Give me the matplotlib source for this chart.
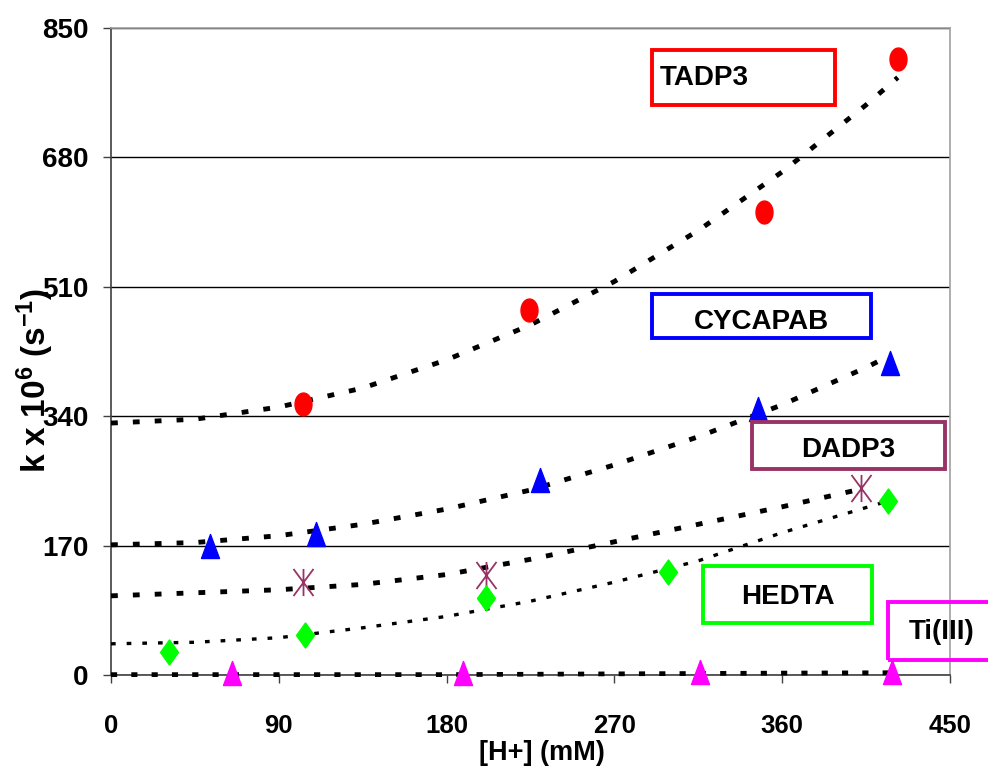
import numpy as np
import matplotlib
matplotlib.use("Agg")
import matplotlib.pyplot as plt
from matplotlib.path import Path
from matplotlib.patches import Rectangle

# ---------------- data ----------------
tadp3_x = [103, 224, 350, 422]
tadp3_y = [356, 480, 608, 809]
cycapab_x = [53, 110, 230, 347, 418]
cycapab_y = [170, 185, 256, 350, 410]
dadp3_x = [103, 201, 402]
dadp3_y = [122, 132, 246]
hedta_x = [31, 104, 201, 299, 417]
hedta_y = [30, 53, 101, 135, 229]
ti_x = [65, 189, 316, 419]
ti_y = [3, 3, 4, 4]

# trendlines
tadp3_fit_x = [0, 45, 90, 135, 180, 225, 270, 315, 360, 405, 422]
tadp3_fit_y = [331, 336, 352, 377, 414, 460, 517, 584, 661, 749, 785]
cycapab_fit_x = [0, 45, 90, 135, 180, 225, 270, 315, 360, 405, 418]
cycapab_fit_y = [171, 174, 183, 198, 218, 243, 276, 313, 355, 404, 420]
dadp3_fit_x = [0, 45, 90, 135, 180, 225, 270, 315, 360, 400]
dadp3_fit_y = [104, 108, 112, 119, 132, 152, 175, 198, 221, 243]
hedta_fit_x = [0, 45, 90, 135, 180, 225, 270, 315, 360, 405, 416]
hedta_fit_y = [41, 43, 49, 62, 77, 97, 122, 150, 187, 220, 228]
ti_fit_x = [0, 90, 180, 270, 360, 419]
ti_fit_y = [0.5, 0.5, 0.5, 1.5, 2.5, 3]

xticks = [0, 90, 180, 270, 360, 450]
yticks = [0, 170, 340, 510, 680, 850]

labels = ["TADP3", "CYCAPAB", "DADP3", "HEDTA", "Ti(III)"]
colors = ["#FF0000", "#0000FF", "#993366", "#00FF00", "#FF00FF"]

# ---------------- figure ----------------
plt.rcParams['mathtext.fontset'] = 'custom'
plt.rcParams['mathtext.default'] = 'regular'
FAM = ['Liberation Sans', 'DejaVu Sans']

W, H = 988, 768
fig = plt.figure(figsize=(W / 100, H / 100), dpi=100)

def fx(x):
    return x / W

def fy(y):
    return 1 - y / H

ax = fig.add_axes([fx(111), fy(675), fx(950) - fx(111), fy(28) - fy(675)])
ax.set_xlim(0, 450)
ax.set_ylim(0, 850)
ax.set_xticks(xticks)
ax.set_yticks(yticks)
ax.yaxis.grid(True, color='black', lw=1.0, zorder=0)
ax.set_axisbelow(True)
for s in ['left', 'bottom']:
    ax.spines[s].set_color('#404040')
    ax.spines[s].set_linewidth(1.2)
for s in ['top', 'right']:
    ax.spines[s].set_color('#A0A0A0')
    ax.spines[s].set_linewidth(1.2)
ax.tick_params(axis='x', direction='out', length=6, width=1, color='#404040', pad=22)
ax.tick_params(axis='y', direction='out', length=6, width=1, color='#404040', pad=10)
for lab in ax.get_xticklabels():
    lab.set_fontfamily(FAM)
    lab.set_fontweight('bold')
    lab.set_fontsize(18.5)
for lab in ax.get_yticklabels():
    lab.set_fontfamily(FAM)
    lab.set_fontweight('bold')
    lab.set_fontsize(20)

# markers
t = np.linspace(0, 2 * np.pi, 48)
ellipse = Path(np.c_[0.37 * np.cos(t), 0.5 * np.sin(t)], closed=True)
tri = Path([(-0.375, -0.5), (0.375, -0.5), (0, 0.5), (-0.375, -0.5)], closed=True)
diamond = Path([(0, 0.5), (0.36, 0), (0, -0.5), (-0.36, 0), (0, 0.5)], closed=True)
star = Path([(-0.37, -0.5), (0.37, 0.5), (-0.37, 0.5), (0.37, -0.5), (0, -0.5), (0, 0.5)],
            [Path.MOVETO, Path.LINETO, Path.MOVETO, Path.LINETO, Path.MOVETO, Path.LINETO])

thick = dict(color='black', lw=3.5, ls=(0, (1.4, 3.1)), dash_capstyle='butt', zorder=3,
             clip_on=False)
ax.plot(tadp3_fit_x, tadp3_fit_y, **thick)
ax.plot(cycapab_fit_x, cycapab_fit_y, **thick)
ax.plot(dadp3_fit_x, dadp3_fit_y, **thick)
ax.plot(hedta_fit_x, hedta_fit_y, color='black', lw=2.4, ls=(0, (1.4, 3.3)),
        dash_capstyle='butt', zorder=3, clip_on=False)
ax.plot(ti_fit_x, ti_fit_y, color='black', lw=3.4, ls=(0, (1.3, 3.0)),
        dash_capstyle='butt', zorder=3, clip_on=False)

ax.plot(tadp3_x, tadp3_y, ls='none', marker=ellipse, ms=16.5, color=colors[0],
        mec=colors[0], zorder=4, clip_on=False)
ax.plot(cycapab_x, cycapab_y, ls='none', marker=tri, ms=17.3, color=colors[1],
        mec=colors[1], zorder=4, clip_on=False)
ax.plot(dadp3_x, dadp3_y, ls='none', marker=star, ms=19.5, mfc='none', mec=colors[2],
        mew=1.3, zorder=4, clip_on=False)
ax.plot(hedta_x, hedta_y, ls='none', marker=diamond, ms=18, color=colors[3],
        mec=colors[3], zorder=4, clip_on=False)
ax.plot(ti_x, ti_y, ls='none', marker=tri, ms=17.3, color=colors[4],
        mec=colors[4], zorder=4, clip_on=False)

# label boxes (pixel layout)
boxes = [
    (652, 50, 835, 105, 660, 78, 'left'),
    (652, 294, 871, 338, 761, 322, 'center'),
    (752, 422, 945, 469, 848, 450, 'center'),
    (703, 566, 872, 623, 788, 597, 'center'),
    (888, 602, 1100, 660, 942, 632, 'center'),
]
for (x0, y0, x1, y1, tx, ty, ha), lab, c in zip(boxes, labels, colors):
    fig.patches.append(Rectangle((fx(x0), fy(y1)), fx(x1) - fx(x0), fy(y0) - fy(y1),
                                 transform=fig.transFigure, fill=False, ec=c, lw=2.8,
                                 zorder=5))
    fig.text(fx(tx), fy(ty), lab, ha=ha, va='center', fontsize=20, fontweight='bold',
             family=FAM, zorder=6)

fig.text(fx(542), fy(753), "[H+] (mM)", ha='center', va='center', fontsize=19.5,
         fontweight='bold', family=FAM)
fig.text(fx(35), fy(380), r"k x 10$^{6}$ (s$^{-1}$)", ha='center', va='center',
         rotation=90, fontsize=24, fontweight='bold', family=FAM)

fig.savefig("out.png", dpi=100)
